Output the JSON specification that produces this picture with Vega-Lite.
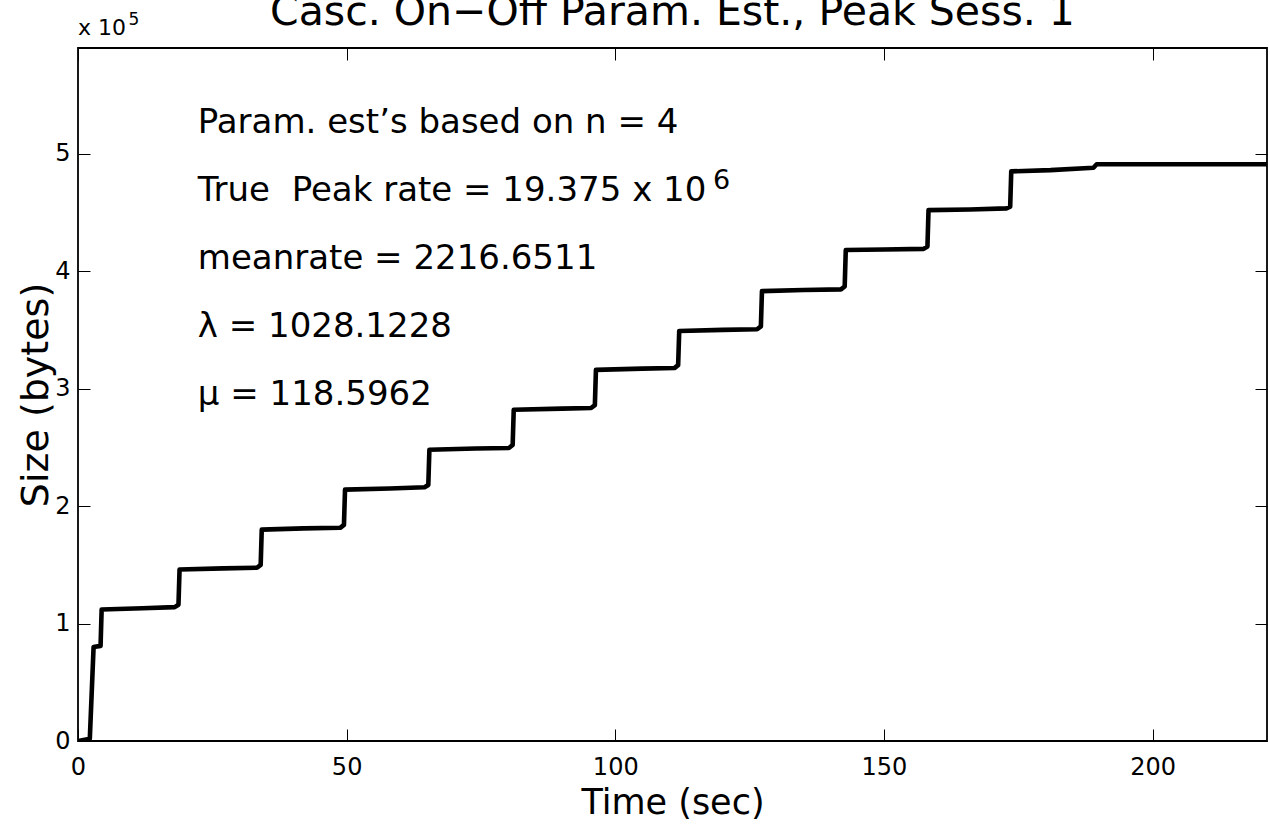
{
  "$schema": "https://vega.github.io/schema/vega-lite/v6.json",
  "width": 1189,
  "height": 693,
  "autosize": {"type": "none"},
  "padding": {"left": 78, "top": 48, "right": 3, "bottom": 88},
  "background": "white",
  "config": {
    "view": {"stroke": "black", "strokeWidth": 1.8},
    "font": "DejaVu Sans",
    "axis": {"labelColor": "black", "titleColor": "black", "labelFont": "DejaVu Sans", "titleFont": "DejaVu Sans", "titleFontWeight": "normal", "grid": false}
  },
  "datasets": {
    "curve": [
      {"t": 0, "bytes": 0},
      {"t": 2.2, "bytes": 2000},
      {"t": 2.9, "bytes": 80000},
      {"t": 4.2, "bytes": 81000},
      {"t": 4.4, "bytes": 112000},
      {"t": 12, "bytes": 113000},
      {"t": 18.0, "bytes": 114000},
      {"t": 18.7, "bytes": 116000},
      {"t": 18.9, "bytes": 146000},
      {"t": 27, "bytes": 147000},
      {"t": 33.3, "bytes": 147500},
      {"t": 34.0, "bytes": 150000},
      {"t": 34.2, "bytes": 180000},
      {"t": 42, "bytes": 181000},
      {"t": 48.8, "bytes": 181500},
      {"t": 49.5, "bytes": 184000},
      {"t": 49.7, "bytes": 214000},
      {"t": 58, "bytes": 215000},
      {"t": 64.5, "bytes": 216000},
      {"t": 65.2, "bytes": 218000},
      {"t": 65.4, "bytes": 248000},
      {"t": 74, "bytes": 249000},
      {"t": 80.2, "bytes": 249500},
      {"t": 80.9, "bytes": 252000},
      {"t": 81.1, "bytes": 282000},
      {"t": 90, "bytes": 283000},
      {"t": 95.5, "bytes": 283500},
      {"t": 96.2, "bytes": 286000},
      {"t": 96.4, "bytes": 316000},
      {"t": 105, "bytes": 317000},
      {"t": 111, "bytes": 317500},
      {"t": 111.7, "bytes": 320000},
      {"t": 111.9, "bytes": 349000},
      {"t": 120, "bytes": 350000},
      {"t": 126.4, "bytes": 350500},
      {"t": 127.1, "bytes": 353000},
      {"t": 127.3, "bytes": 383000},
      {"t": 135, "bytes": 384000},
      {"t": 142, "bytes": 384500},
      {"t": 142.7, "bytes": 387000},
      {"t": 142.9, "bytes": 418000},
      {"t": 150, "bytes": 418500},
      {"t": 157.4, "bytes": 419000},
      {"t": 158.1, "bytes": 421000},
      {"t": 158.3, "bytes": 452000},
      {"t": 166, "bytes": 452500},
      {"t": 172.8, "bytes": 453500},
      {"t": 173.5, "bytes": 455000},
      {"t": 173.7, "bytes": 485000},
      {"t": 181, "bytes": 486000},
      {"t": 189, "bytes": 488000},
      {"t": 189.6, "bytes": 491000},
      {"t": 221.3, "bytes": 491000}
    ],
    "notes": [
      {"t": 22.3, "bytes": 526100, "label": "Param. est’s based on n = 4"},
      {"t": 22.3, "bytes": 468200, "label": "True \u00a0Peak rate = 19.375 x 10"},
      {"t": 22.3, "bytes": 410400, "label": "meanrate = 2216.6511"},
      {"t": 22.3, "bytes": 352500, "label": "λ = 1028.1228"},
      {"t": 22.3, "bytes": 294600, "label": "μ = 118.5962"}
    ],
    "supers": [
      {"t": 118.2, "bytes": 476500, "label": "6"}
    ],
    "heading": [
      {"t": 110.65, "bytes": 609600, "label": "Casc. On−Off Param. Est., Peak Sess. 1"}
    ],
    "scaleNote": [
      {"t": 0, "bytes": 601100, "label": "x 10"}
    ],
    "scaleSup": [
      {"t": 9.4, "bytes": 613800, "label": "5"}
    ]
  },
  "layer": [
    {
      "data": {"name": "curve"},
      "mark": {"type": "line", "color": "black", "strokeWidth": 4.6, "strokeJoin": "round", "strokeCap": "round", "clip": true},
      "encoding": {
        "x": {"field": "t", "type": "quantitative", "scale": {"domain": [0, 221.3], "nice": false, "zero": false},
          "axis": {"orient": "bottom", "values": [0, 50, 100, 150, 200], "ticks": false, "domain": false, "labelFontSize": 24, "labelPadding": 14, "labelFlush": false, "title": "Time (sec)", "titleFontSize": 35, "titleX": 594.5, "titleY": 61, "titleBaseline": "middle", "titleAlign": "center"}},
        "y": {"field": "bytes", "type": "quantitative", "scale": {"domain": [0, 590000], "nice": false, "zero": false},
          "axis": {"orient": "left", "values": [0, 100000, 200000, 300000, 400000, 500000], "labelExpr": "format(datum.value / 100000, 'd')", "ticks": false, "domain": false, "labelFontSize": 24, "labelPadding": 8, "labelFlush": false, "title": "Size (bytes)", "titleFontSize": 38, "titleAngle": 270, "titleX": -42, "titleY": 346.5, "titleBaseline": "middle", "titleAlign": "center"}}
      }
    },
    {
      "data": {"name": "notes"},
      "mark": {"type": "text", "align": "left", "baseline": "middle", "fontSize": 34, "font": "DejaVu Sans", "color": "black"},
      "encoding": {
        "x": {"field": "t", "type": "quantitative", "axis": {"orient": "bottom", "offset": -12, "tickSize": 12, "tickColor": "black", "tickWidth": 1, "labels": false, "domain": false, "title": null, "values": [0, 50, 100, 150, 200]}},
        "y": {"field": "bytes", "type": "quantitative", "axis": {"orient": "left", "offset": -12, "tickSize": 12, "tickColor": "black", "tickWidth": 1, "labels": false, "domain": false, "title": null, "values": [0, 100000, 200000, 300000, 400000, 500000]}},
        "text": {"field": "label"}
      }
    },
    {
      "data": {"name": "supers"},
      "mark": {"type": "text", "align": "left", "baseline": "middle", "fontSize": 27, "font": "DejaVu Sans", "color": "black"},
      "encoding": {
        "x": {"field": "t", "type": "quantitative", "axis": {"orient": "top", "offset": -12, "tickSize": 12, "tickColor": "black", "tickWidth": 1, "labels": false, "domain": false, "title": null, "values": [0, 50, 100, 150, 200]}},
        "y": {"field": "bytes", "type": "quantitative", "axis": {"orient": "right", "offset": -12, "tickSize": 12, "tickColor": "black", "tickWidth": 1, "labels": false, "domain": false, "title": null, "values": [0, 100000, 200000, 300000, 400000, 500000]}},
        "text": {"field": "label"}
      }
    },
    {
      "data": {"name": "heading"},
      "mark": {"type": "text", "align": "center", "baseline": "alphabetic", "fontSize": 41, "font": "DejaVu Sans", "color": "black"},
      "encoding": {
        "x": {"field": "t", "type": "quantitative", "axis": null},
        "y": {"field": "bytes", "type": "quantitative", "axis": null},
        "text": {"field": "label"}
      }
    },
    {
      "data": {"name": "scaleNote"},
      "mark": {"type": "text", "align": "left", "baseline": "alphabetic", "fontSize": 22, "font": "DejaVu Sans", "color": "black"},
      "encoding": {
        "x": {"field": "t", "type": "quantitative", "axis": null},
        "y": {"field": "bytes", "type": "quantitative", "axis": null},
        "text": {"field": "label"}
      }
    },
    {
      "data": {"name": "scaleSup"},
      "mark": {"type": "text", "align": "left", "baseline": "middle", "fontSize": 17, "font": "DejaVu Sans", "color": "black"},
      "encoding": {
        "x": {"field": "t", "type": "quantitative", "axis": null},
        "y": {"field": "bytes", "type": "quantitative", "axis": null},
        "text": {"field": "label"}
      }
    }
  ],
  "resolve": {"axis": {"x": "independent", "y": "independent"}}
}
